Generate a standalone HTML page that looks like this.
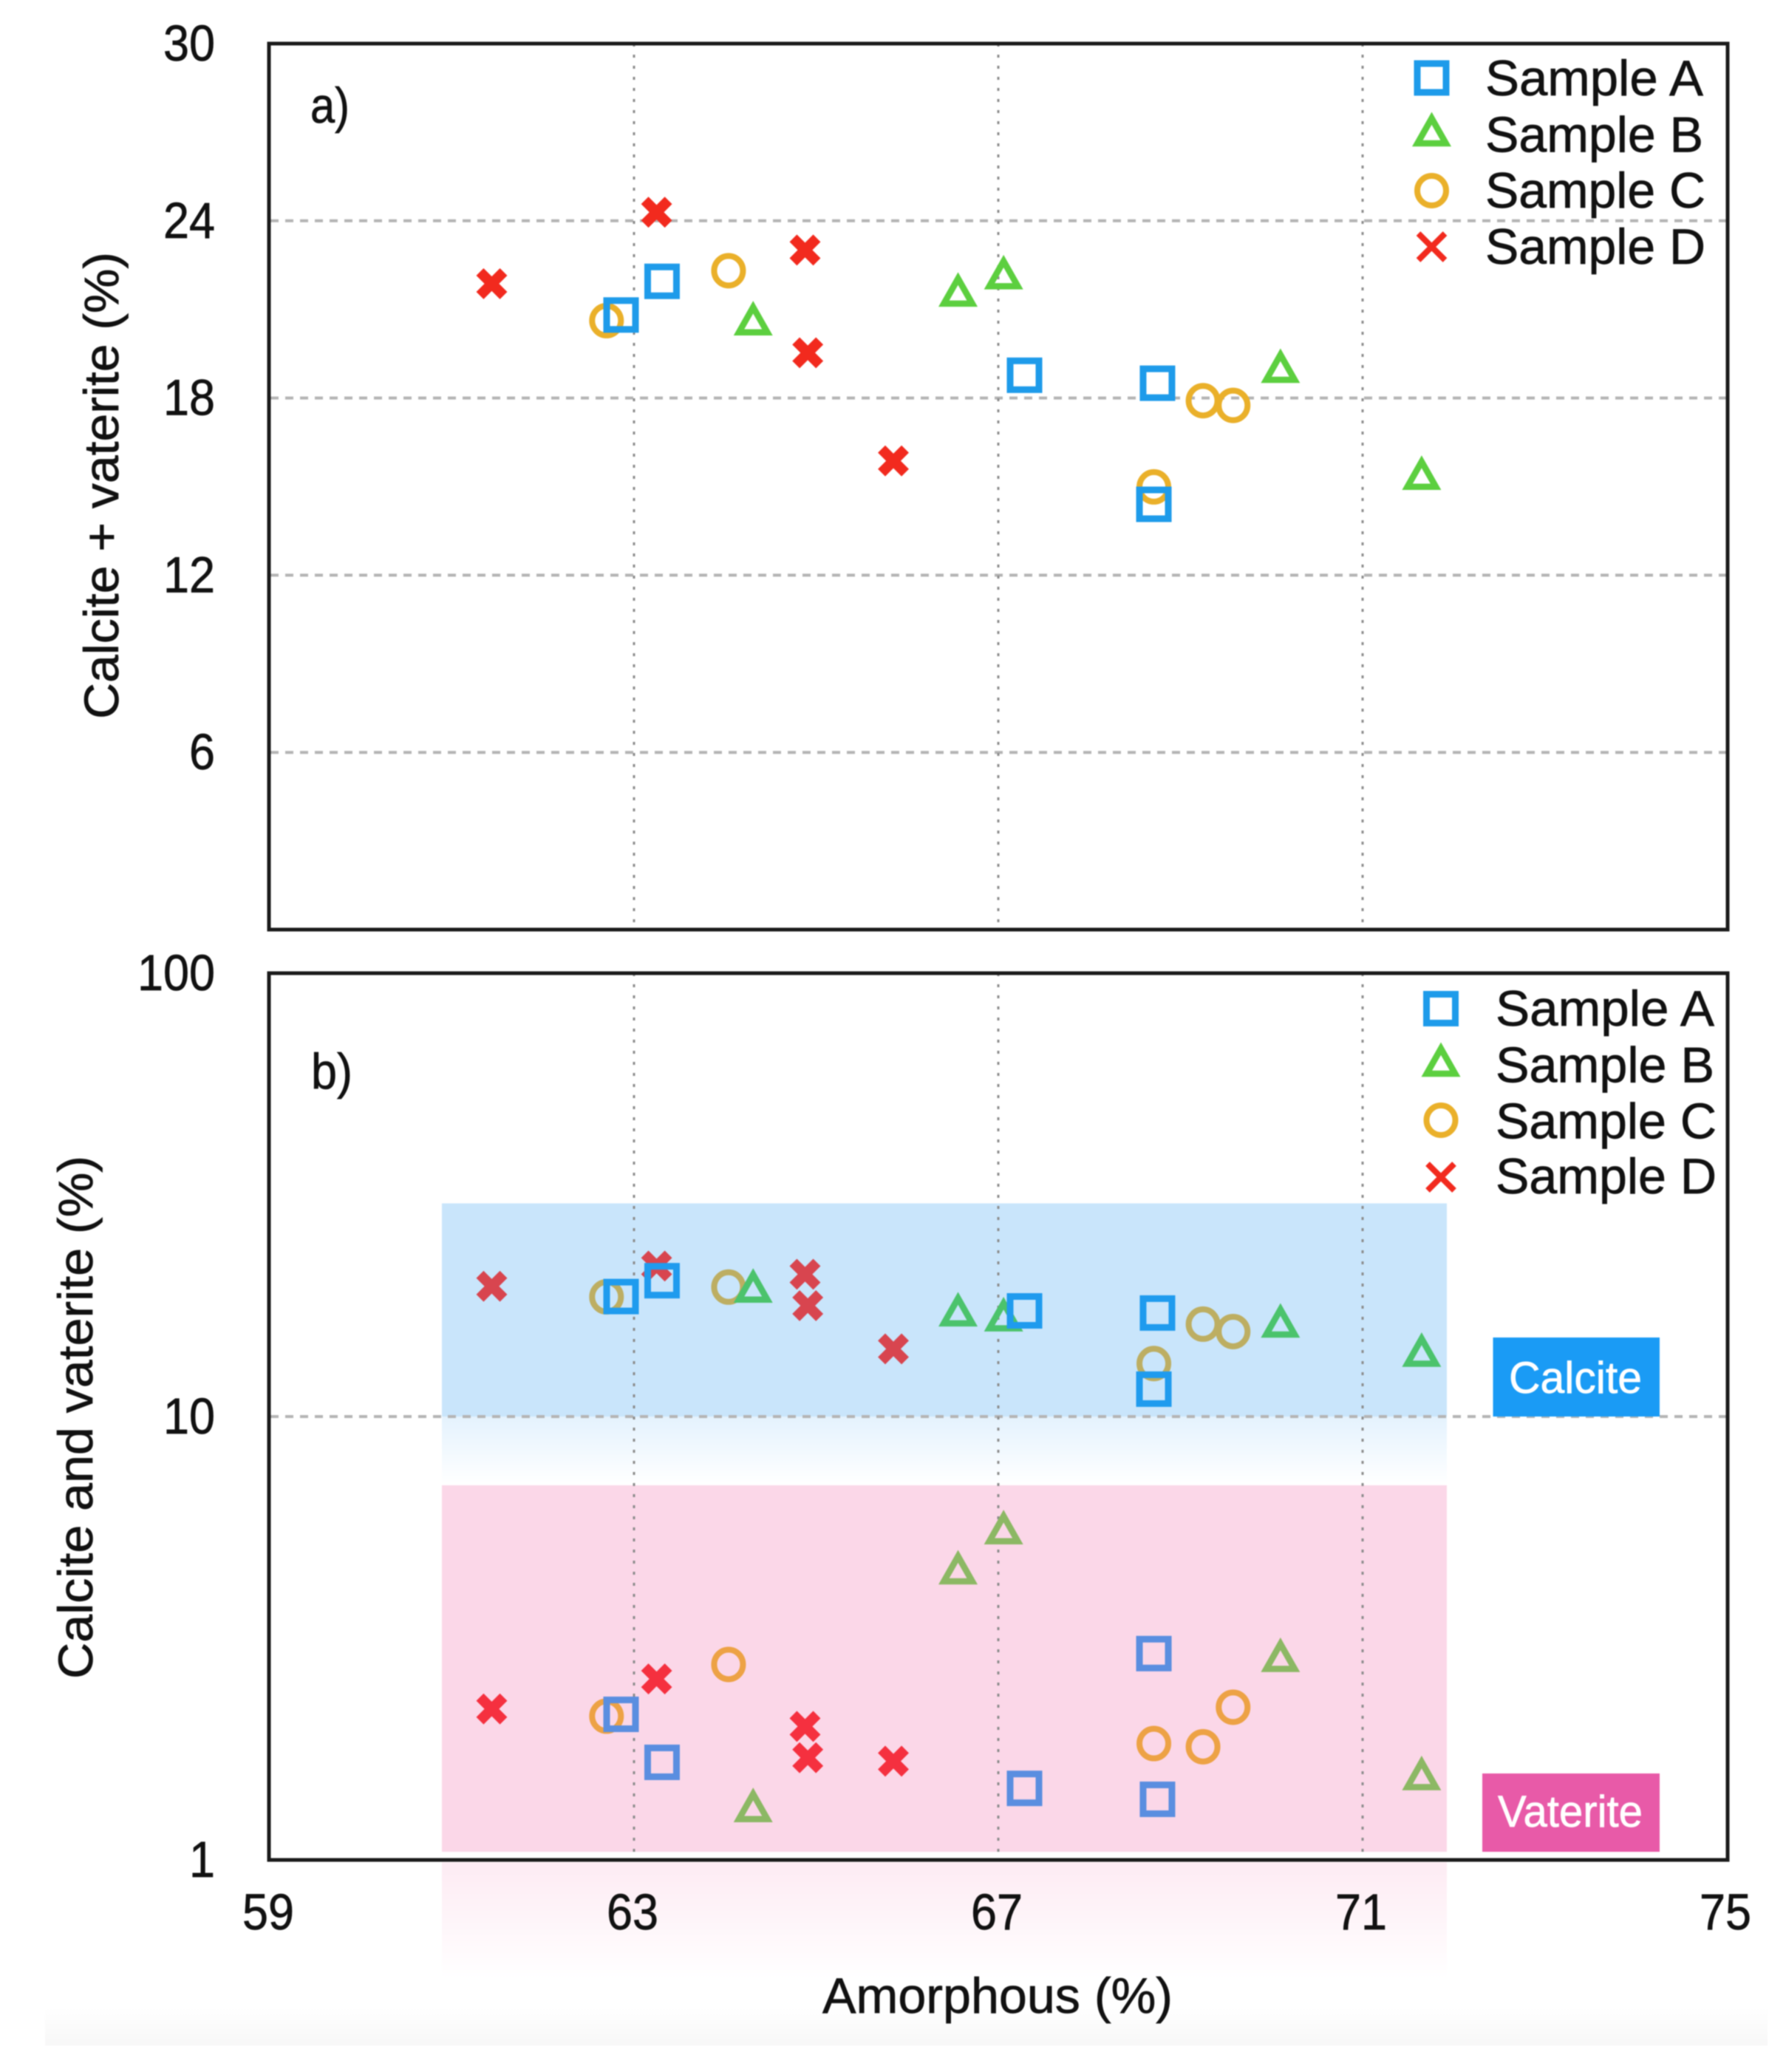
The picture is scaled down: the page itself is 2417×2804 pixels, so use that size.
<!DOCTYPE html>
<html lang="en">
<head>
<meta charset="utf-8">
<title>Amorphous vs calcite and vaterite</title>
<style>
  html, body { margin: 0; padding: 0; background: #fff; }
  #chart { display: block; width: 2417px; height: 2804px; filter: blur(0.7px); }
  text { font-family: "Liberation Sans", sans-serif; fill: #111; stroke: #111; stroke-width: 0.7px; }
</style>
</head>
<body>
<svg id="chart" xmlns="http://www.w3.org/2000/svg" width="2417" height="2804" viewBox="0 0 2417 2804">
  <defs>
    <linearGradient id="calcite-fade" x1="0" y1="0" x2="0" y2="1">
      <stop offset="0" stop-color="#e4f2fd"/>
      <stop offset="1" stop-color="#ffffff"/>
    </linearGradient>
    <linearGradient id="vaterite-fade" x1="0" y1="0" x2="0" y2="1">
      <stop offset="0" stop-color="#fdebf3"/>
      <stop offset="1" stop-color="#ffffff"/>
    </linearGradient>
    <linearGradient id="foot-fade" x1="0" y1="0" x2="0" y2="1">
      <stop offset="0" stop-color="#ffffff"/>
      <stop offset="1" stop-color="#f7f7f7"/>
    </linearGradient>
  </defs>
  <rect x="0" y="0" width="2417" height="2804" fill="#ffffff"/>
  <rect x="61" y="2715" width="2331" height="53" fill="url(#foot-fade)"/>

  <!-- bands in panel b -->
  <rect x="598" y="1628.5" width="1360" height="288.5" fill="#c9e5fb"/>
  <rect x="598" y="1917" width="1360" height="93" fill="url(#calcite-fade)"/>
  <rect x="598" y="2010" width="1360" height="496" fill="#fbd7e8"/>
  <rect x="598" y="2520" width="1360" height="160" fill="url(#vaterite-fade)"/>

  <g id="grid-layer"></g>

  <rect x="2020.5" y="1810" width="225.5" height="107" fill="#1a9bf5"/>
  <text x="2042" y="1885" font-size="60" style="fill:#fff;stroke:#fff" textLength="180" lengthAdjust="spacingAndGlyphs">Calcite</text>
  <rect x="2006" y="2400" width="240" height="106" fill="#e85aa8"/>
  <text x="2027" y="2472" font-size="60" style="fill:#fff;stroke:#fff" textLength="196" lengthAdjust="spacingAndGlyphs">Vaterite</text>

  <g id="marks-layer"></g>

  <rect x="364" y="59" width="1974" height="1199" fill="none" stroke="#1a1a1a" stroke-width="5"/>
  <rect x="364" y="1317" width="1974" height="1200" fill="none" stroke="#1a1a1a" stroke-width="5"/>

  <g id="ticks-layer"></g>

  <text x="420" y="166" font-size="68" textLength="53" lengthAdjust="spacingAndGlyphs">a)</text>
  <text x="421" y="1473" font-size="68" textLength="56" lengthAdjust="spacingAndGlyphs">b)</text>

  <text transform="translate(160 973) rotate(-90)" font-size="66" textLength="632" lengthAdjust="spacingAndGlyphs">Calcite + vaterite (%)</text>
  <text transform="translate(125 2272) rotate(-90)" font-size="66" textLength="708" lengthAdjust="spacingAndGlyphs">Calcite and vaterite (%)</text>
  <text x="1113" y="2724" font-size="68" textLength="474" lengthAdjust="spacingAndGlyphs">Amorphous (%)</text>

  <g>
    <text x="2010" y="129" font-size="68" textLength="295" lengthAdjust="spacingAndGlyphs">Sample A</text>
    <text x="2010" y="205.5" font-size="68" textLength="295" lengthAdjust="spacingAndGlyphs">Sample B</text>
    <text x="2010" y="281" font-size="68" textLength="298" lengthAdjust="spacingAndGlyphs">Sample C</text>
    <text x="2010" y="357" font-size="68" textLength="298" lengthAdjust="spacingAndGlyphs">Sample D</text>
  </g>
  <g>
    <text x="2024" y="1388" font-size="68" textLength="296" lengthAdjust="spacingAndGlyphs">Sample A</text>
    <text x="2024" y="1464.5" font-size="68" textLength="296" lengthAdjust="spacingAndGlyphs">Sample B</text>
    <text x="2024" y="1540.5" font-size="68" textLength="299" lengthAdjust="spacingAndGlyphs">Sample C</text>
    <text x="2024" y="1615" font-size="68" textLength="299" lengthAdjust="spacingAndGlyphs">Sample D</text>
  </g>
  <g id="legend-keys"></g>
</svg>

<script>
// ---- tick labels ----
const xTicks = [59, 63, 67, 71, 75];
const xGridTicks = [63, 67, 71];
const totalTicks = [30, 24, 18, 12, 6];
const totalGridTicks = [24, 18, 12, 6];
const logTicks = [100, 10, 1];
const logGridTicks = [10];

// ---- series values: amorphous (%) shared by both panels ----
const amorphousA = [62.85, 63.30, 67.28, 68.74, 68.70];
const amorphousB = [64.30, 66.55, 67.05, 70.09, 71.64];
const amorphousC = [62.69, 64.03, 69.24, 69.57, 68.70];
const amorphousD = [61.43, 63.24, 64.87, 64.90, 65.84];

// ---- panel a: calcite + vaterite (%) ----
const totalA = [20.81, 21.95, 18.77, 18.50, 14.40];
const totalB = [20.70, 21.67, 22.26, 19.09, 15.47];
const totalC = [20.62, 22.31, 17.91, 17.75, 14.99];
const totalD = [21.87, 24.29, 23.01, 19.53, 15.87];

// ---- panel b: calcite (%) ----
const calciteA = [18.65, 20.25, 17.31, 17.12, 11.53];
const calciteB = [19.74, 17.45, 17.01, 16.47, 14.15];
const calciteC = [18.62, 19.59, 16.16, 15.55, 13.17];
const calciteD = [19.67, 21.85, 20.94, 17.79, 14.21];

// ---- panel b: vaterite (%) ----
const vateriteA = [2.13, 1.66, 1.45, 1.37, 2.92];
const vateriteB = [1.33, 4.57, 5.63, 2.90, 1.57];
const vateriteC = [2.11, 2.76, 1.80, 2.21, 1.83];
const vateriteD = [2.19, 2.56, 2.00, 1.70, 1.67];

const SVG_NS = 'http://www.w3.org/2000/svg';
const sx = v => 366 + (v - 59) * (2338 - 366) / 16;
const syTotal = v => 59 + (30 - v) * (1258 - 59) / 30;
const syLog = v => 2517 - 600 * Math.log10(v);

const PLAIN = { A: '#1e9bea', B: '#5ccf3f', C: '#eab02a', D: '#f22a1e' };
const ON_CALCITE = { A: '#1f9bee', B: '#4bc36c', C: '#bdae62', D: '#d8454f' };
const ON_VATERITE = { A: '#5a8ee0', B: '#8cb864', C: '#eda245', D: '#f5303f' };

function node(tag, parent) {
  const el = document.createElementNS(SVG_NS, tag);
  parent.appendChild(el);
  return el;
}

function drawMarker(parent, kind, cx, cy, color, thin, label) {
  const g = node('g', parent);
  
  
  g.setAttribute('transform', 'translate(' + cx + ' ' + cy + ')');
  if (kind === 'A') {
    const r = node('rect', g);
    r.setAttribute('x', -19.5);
    r.setAttribute('y', -19.5);
    r.setAttribute('width', 39);
    r.setAttribute('height', 39);
    r.setAttribute('fill', 'none');
    r.setAttribute('stroke', color);
    r.setAttribute('stroke-width', 9);
  } else if (kind === 'B') {
    const p = node('polygon', g);
    p.setAttribute('points', '0,-14.9 19.2,19 -19.2,19');
    p.setAttribute('fill', 'none');
    p.setAttribute('stroke', color);
    p.setAttribute('stroke-width', 8.5);
    p.setAttribute('stroke-miterlimit', 10);
  } else if (kind === 'C') {
    const c = node('ellipse', g);
    c.setAttribute('rx', 19.5);
    c.setAttribute('ry', 20);
    c.setAttribute('fill', 'none');
    c.setAttribute('stroke', color);
    c.setAttribute('stroke-width', 8);
  } else {
    const d = thin ? 18 : 16;
    const path = node('path', g);
    path.setAttribute('d', 'M' + (-d) + ' ' + (-d) + 'L' + d + ' ' + d + 'M' + d + ' ' + (-d) + 'L' + (-d) + ' ' + d);
    path.setAttribute('fill', 'none');
    path.setAttribute('stroke', color);
    path.setAttribute('stroke-width', thin ? 8 : 14);
  }
}

// ---- grid ----
const gridLayer = document.getElementById('grid-layer');
function hGrid(y, label) {
  const l = node('line', gridLayer);
  
  
  l.setAttribute('x1', 366);
  l.setAttribute('x2', 2338);
  l.setAttribute('y1', y);
  l.setAttribute('y2', y);
  l.setAttribute('stroke', '#b4b4b4');
  l.setAttribute('stroke-width', 4);
  l.setAttribute('stroke-dasharray', '11 9');
}
function vGrid(x, y1, y2, label) {
  const l = node('line', gridLayer);
  
  
  l.setAttribute('x1', x);
  l.setAttribute('x2', x);
  l.setAttribute('y1', y1);
  l.setAttribute('y2', y2);
  l.setAttribute('stroke', '#8c8c8c');
  l.setAttribute('stroke-width', 3);
  l.setAttribute('stroke-dasharray', '4 11');
}
totalGridTicks.forEach(v => hGrid(syTotal(v), 'panel-a-grid-y-' + v));
logGridTicks.forEach(v => hGrid(syLog(v), 'panel-b-grid-y-' + v));
xGridTicks.forEach(v => {
  vGrid(sx(v) - 1, 59, 1258, 'panel-a-grid-x-' + v);
  vGrid(sx(v) - 1, 1317, 2517, 'panel-b-grid-x-' + v);
});

// ---- tick labels ----
const ticksLayer = document.getElementById('ticks-layer');
function tickText(str, x, y, anchor, label) {
  const t = node('text', ticksLayer);
  
  
  t.setAttribute('x', x);
  t.setAttribute('y', y);
  t.setAttribute('font-size', 69);
  t.setAttribute('text-anchor', anchor);
  t.setAttribute('textLength', str.length * 35);
  t.setAttribute('lengthAdjust', 'spacingAndGlyphs');
  t.textContent = str;
}
xTicks.forEach(v => tickText(String(v), sx(v) - 3, 2611, 'middle', 'x-tick-' + v));
totalTicks.forEach(v => tickText(String(v), 291, syTotal(v) + 23, 'end', 'panel-a-y-tick-' + v));
logTicks.forEach(v => tickText(String(v), 291, syLog(v) + 23, 'end', 'panel-b-y-tick-' + v));

// ---- marks: drawn D, C, B, A so squares sit on top ----
const marksLayer = document.getElementById('marks-layer');
function drawSeries(kind, xs, ys, scaleY, palette, prefix) {
  xs.forEach((x, i) => {
    drawMarker(marksLayer, kind, sx(x), scaleY(ys[i]), palette[kind], false, prefix + '-sample-' + kind.toLowerCase() + '-point-' + (i + 1));
  });
}
drawSeries('D', amorphousD, totalD, syTotal, PLAIN, 'total');
drawSeries('C', amorphousC, totalC, syTotal, PLAIN, 'total');
drawSeries('B', amorphousB, totalB, syTotal, PLAIN, 'total');
drawSeries('A', amorphousA, totalA, syTotal, PLAIN, 'total');

drawSeries('D', amorphousD, calciteD, syLog, ON_CALCITE, 'calcite');
drawSeries('C', amorphousC, calciteC, syLog, ON_CALCITE, 'calcite');
drawSeries('B', amorphousB, calciteB, syLog, ON_CALCITE, 'calcite');
drawSeries('A', amorphousA, calciteA, syLog, ON_CALCITE, 'calcite');

drawSeries('D', amorphousD, vateriteD, syLog, ON_VATERITE, 'vaterite');
drawSeries('C', amorphousC, vateriteC, syLog, ON_VATERITE, 'vaterite');
drawSeries('B', amorphousB, vateriteB, syLog, ON_VATERITE, 'vaterite');
drawSeries('A', amorphousA, vateriteA, syLog, ON_VATERITE, 'vaterite');

// ---- legend keys ----
const legendKeys = document.getElementById('legend-keys');
drawMarker(legendKeys, 'A', 1937.5, 105.5, PLAIN.A, true, 'legend-a-key-sample-a');
drawMarker(legendKeys, 'B', 1937.5, 175, PLAIN.B, true, 'legend-a-key-sample-b');
drawMarker(legendKeys, 'C', 1937.5, 258, PLAIN.C, true, 'legend-a-key-sample-c');
drawMarker(legendKeys, 'D', 1937.5, 334, PLAIN.D, true, 'legend-a-key-sample-d');
drawMarker(legendKeys, 'A', 1950, 1365, PLAIN.A, true, 'legend-b-key-sample-a');
drawMarker(legendKeys, 'B', 1950, 1434, PLAIN.B, true, 'legend-b-key-sample-b');
drawMarker(legendKeys, 'C', 1950, 1516, PLAIN.C, true, 'legend-b-key-sample-c');
drawMarker(legendKeys, 'D', 1950, 1593, PLAIN.D, true, 'legend-b-key-sample-d');
</script>
</body>
</html>
